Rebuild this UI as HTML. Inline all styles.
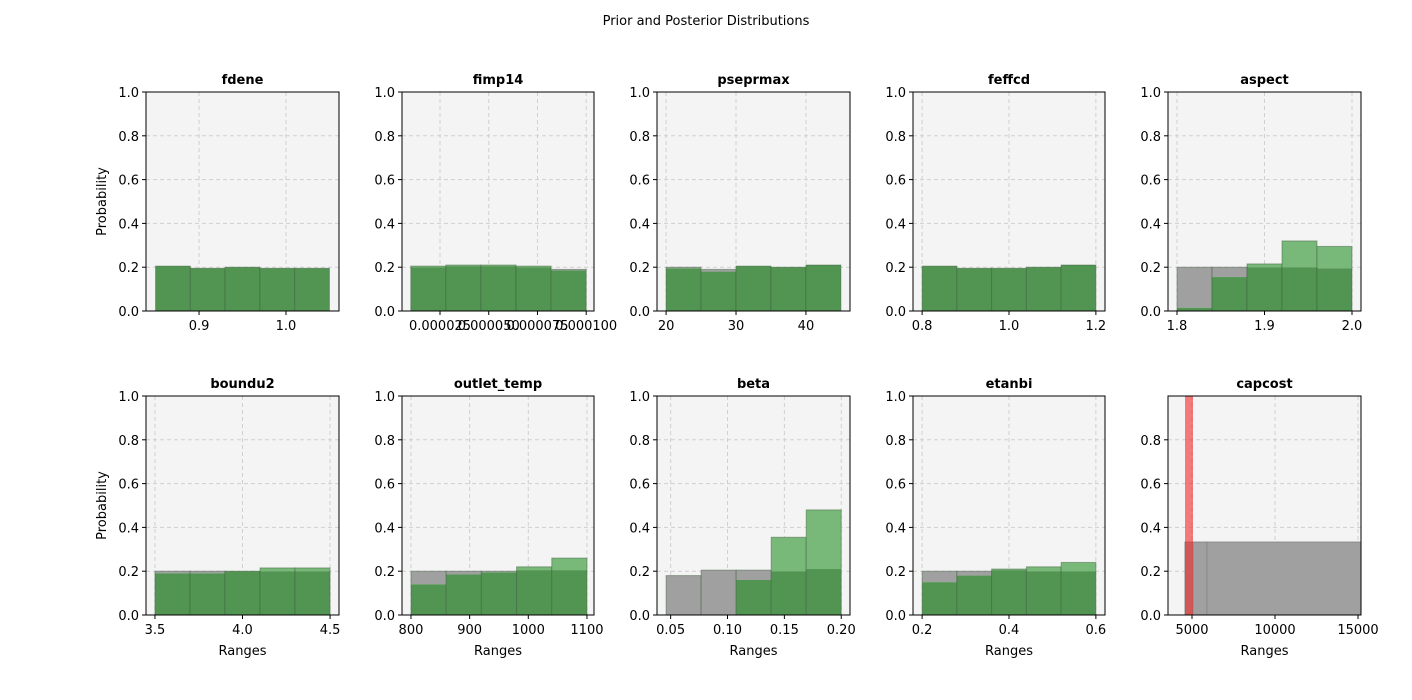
<!DOCTYPE html>
<html><head><meta charset="utf-8"><style>
body{margin:0;background:#fff;}
svg{display:block;font-family:"DejaVu Sans","Liberation Sans",sans-serif;}
</style></head><body>
<svg id="fig" width="1412" height="700">
<rect width="1412" height="700" fill="#fff"/>
<text x="706" y="25" text-anchor="middle" font-size="13">Prior and Posterior Distributions</text>
</svg>
<script>
const panelNames = ["fdene","fimp14","pseprmax","feffcd","aspect","boundu2","outlet_temp","beta","etanbi","capcost"];
const binEdges = [
 [0.85,0.89,0.93,0.97,1.01,1.05],
 [0.00001,0.000028,0.000046,0.000064,0.000082,0.0001],
 [20,25,30,35,40,45],
 [0.8,0.88,0.96,1.04,1.12,1.2],
 [1.8,1.84,1.88,1.92,1.96,2.0],
 [3.5,3.7,3.9,4.1,4.3,4.5],
 [800,860,920,980,1040,1100],
 [0.046,0.0768,0.1076,0.1384,0.1692,0.2],
 [0.2,0.28,0.36,0.44,0.52,0.6],
 [4580,5060,5900,15180]
];
const priorValues = [
 [0.205,0.195,0.2,0.195,0.195],
 [0.2,0.205,0.205,0.2,0.19],
 [0.2,0.19,0.205,0.2,0.21],
 [0.205,0.195,0.195,0.2,0.21],
 [0.2,0.2,0.2,0.2,0.195],
 [0.2,0.2,0.2,0.2,0.2],
 [0.2,0.2,0.2,0.205,0.205],
 [0.18,0.205,0.205,0.2,0.21],
 [0.2,0.2,0.205,0.2,0.2],
 [0.333,0.333,0.333]
];
const posteriorValues = [
 [0.205,0.195,0.2,0.195,0.195],
 [0.205,0.21,0.21,0.205,0.185],
 [0.195,0.18,0.205,0.2,0.21],
 [0.205,0.195,0.195,0.2,0.21],
 [0.015,0.155,0.215,0.32,0.295],
 [0.19,0.19,0.2,0.215,0.215],
 [0.14,0.185,0.195,0.22,0.26],
 [0,0,0.16,0.355,0.48],
 [0.15,0.18,0.21,0.22,0.24],
 [null]
];
const capcostOutlierBin = [4580,5060];
const capcostOutlierValue = [1.0];
const xLimits = [
 [0.839,1.061],[0.0000055,0.000104],[18.7,46.3],[0.779,1.221],[1.7897,2.0103],
 [3.449,4.551],[784.7,1112],[0.038,0.2077],[0.179,0.621],[3555,15180]
];
const xTicks = [
 [0.9,1.0],[0.000025,0.00005,0.000075,0.0001],[20,30,40],[0.8,1.0,1.2],[1.8,1.9,2.0],
 [3.5,4.0,4.5],[800,900,1000,1100],[0.05,0.10,0.15,0.20],[0.2,0.4,0.6],[5000,10000,15000]
];
const xTickLabels = [
 ["0.9","1.0"],["0.000025","0.000050","0.000075","0.000100"],["20","30","40"],["0.8","1.0","1.2"],["1.8","1.9","2.0"],
 ["3.5","4.0","4.5"],["800","900","1000","1100"],["0.05","0.10","0.15","0.20"],["0.2","0.4","0.6"],["5000","10000","15000"]
];
const yTicks = [0,0.2,0.4,0.6,0.8,1.0];
const yTickLabels = ["0.0","0.2","0.4","0.6","0.8","1.0"];

const NS="http://www.w3.org/2000/svg";
const svg=document.getElementById('fig');
const colX=[146,402,657,913,1168], colW=[193,192,193,192,193];
const rowY=[92,396], H=219;
function mk(tag,attrs,parent){const e=document.createElementNS(NS,tag);for(const k in attrs)e.setAttribute(k,attrs[k]);(parent||svg).appendChild(e);return e;}

panelNames.forEach((name,i)=>{
  const r=Math.floor(i/5), c=i%5;
  const x0=colX[c], w=colW[c], y0=rowY[r];
  const g=mk('g',{});
  
  
  const [xa,xb]=xLimits[i];
  const sx=v=>x0+(v-xa)/(xb-xa)*w;
  const sy=v=>y0+H-v*H;
  const bg=mk('rect',{x:x0,y:y0,width:w,height:H,fill:'#f4f4f4'},g);
  
  
  const yt = (name==='capcost')? yTicks.slice(0,5) : yTicks;
  yt.forEach(v=>{ mk('line',{x1:x0,x2:x0+w,y1:sy(v),y2:sy(v),stroke:'#d0d0d0','stroke-dasharray':'4,3','stroke-width':1},g); });
  xTicks[i].forEach(v=>{ mk('line',{x1:sx(v),x2:sx(v),y1:y0,y2:y0+H,stroke:'#d0d0d0','stroke-dasharray':'4,3','stroke-width':1},g); });
  const e=binEdges[i], p=priorValues[i], q=posteriorValues[i];
  for(let k=0;k<p.length;k++){
    const xl=sx(e[k]), xr=sx(e[k+1]), bw=xr-xl;
    if(q[k]===null||q[k]===undefined){
      const b=mk('rect',{x:xl,y:sy(p[k]),width:bw,height:p[k]*H,fill:'#a0a0a0',stroke:'#8a8a8a','stroke-width':1},g);
      
      
      continue;
    }
    const m=Math.min(p[k],q[k]);
    if(p[k]>m){const b=mk('rect',{x:xl,y:sy(p[k]),width:bw,height:(p[k]-m)*H,fill:'#a0a0a0'},g);
      
      }
    if(q[k]>m){const b=mk('rect',{x:xl,y:sy(q[k]),width:bw,height:(q[k]-m)*H,fill:'#78b878'},g);
      
      }
    if(m>0){const b=mk('rect',{x:xl,y:sy(m),width:bw,height:m*H,fill:'#529552'},g);
      
      }
    mk('rect',{x:xl,y:sy(Math.max(p[k],q[k])),width:bw,height:Math.max(p[k],q[k])*H,fill:'none',stroke:'rgba(60,90,60,0.45)','stroke-width':1},g);
  }
  if(name==='capcost'){
    const xl=sx(capcostOutlierBin[0]), xr=sx(capcostOutlierBin[1]);
    const b=mk('rect',{x:xl,y:sy(capcostOutlierValue[0]),width:xr-xl,height:capcostOutlierValue[0]*H,fill:'rgba(240,40,40,0.6)'},g);
    
    
  }
  mk('rect',{x:x0,y:y0,width:w,height:H,fill:'none',stroke:'#000','stroke-width':1},g);
  yt.forEach((v,k)=>{
    const y=sy(v);
    mk('line',{x1:x0-4,x2:x0,y1:y,y2:y,stroke:'#000'},g);
    const t=mk('text',{x:x0-7,y:y+5,'text-anchor':'end','font-size':13},g);
    t.textContent=yTickLabels[k];
    
    
  });
  xTicks[i].forEach((v,k)=>{
    const x=sx(v);
    mk('line',{x1:x,x2:x,y1:y0+H,y2:y0+H+4,stroke:'#000'},g);
    const t=mk('text',{x:x,y:y0+H+19,'text-anchor':'middle','font-size':13},g);
    t.textContent=xTickLabels[i][k];
    
    
  });
  const tt=mk('text',{x:x0+w/2,y:y0-8,'text-anchor':'middle','font-size':13,'font-weight':'bold'},g);
  tt.textContent=name;
  
  
  if(c===0){
    const yl=mk('text',{x:0,y:0,'text-anchor':'middle','font-size':13,transform:`translate(106,${y0+H/2}) rotate(-90)`},g);
    yl.textContent='Probability';
    
    
  }
  if(r===1){
    const xl=mk('text',{x:x0+w/2,y:y0+H+40,'text-anchor':'middle','font-size':13},g);
    xl.textContent='Ranges';
    
    
  }
});
</script>
</body></html>
